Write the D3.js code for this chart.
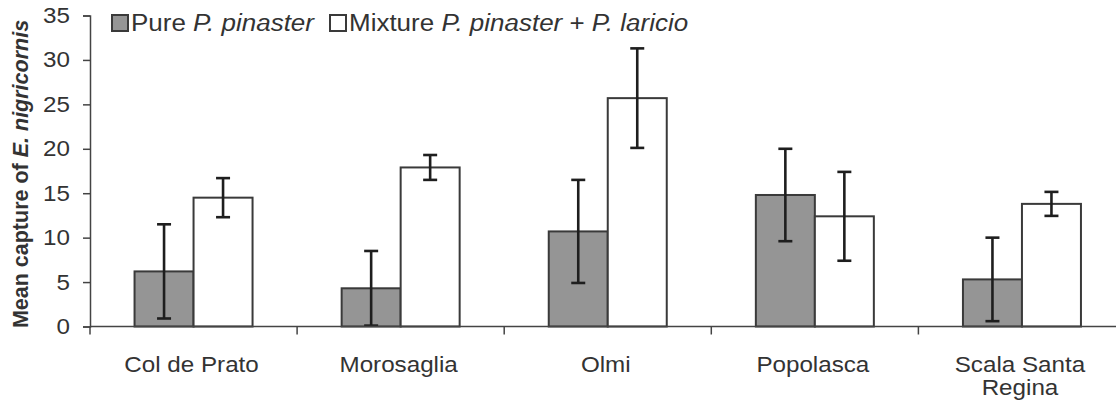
<!DOCTYPE html>
<html>
<head>
<meta charset="utf-8">
<script src="https://cdn.jsdelivr.net/npm/d3@7"></script>
<style>
  html, body { margin: 0; padding: 0; background: #fff; }
  svg { display: block; }
  text { font-family: "Liberation Sans", Arial, sans-serif; fill: #333; }
</style>
</head>
<body>
<svg id="chart" width="1116" height="405"></svg>
<script>
// Sites sampled
const categories = ["Col de Prato", "Morosaglia", "Olmi", "Popolasca", "Scala Santa Regina"];
// Mean captures and their error (± SE) per stand type
const pureMean = [6.2, 4.3, 10.7, 14.8, 5.3];
const pureErr  = [5.3, 4.2, 5.8, 5.2, 4.7];
const mixMean  = [14.5, 17.9, 25.7, 12.4, 13.8];
const mixErr   = [2.2, 1.4, 5.6, 5.0, 1.35];
const yTicks   = [0, 5, 10, 15, 20, 25, 30, 35];
const seriesKeys = ["pure", "mix"];

const svg = d3.select("#chart");
const fs = 22;      // label font size
const sx = 1.1;     // horizontal text widening

const x = d3.scaleBand().domain(categories).range([90, 1125.5]).padding(0);
const xSub = d3.scaleBand().domain(seriesKeys)
  .range([x.bandwidth() / 2 - 59, x.bandwidth() / 2 + 59]).padding(0);
const y = d3.scaleLinear().domain([0, 35]).range([326.5, 15.5]);

const fills = { pure: "#959595", mix: "#ffffff" };

const rows = categories.map((c, i) => ({
  cat: c,
  vals: [
    { key: "pure", mean: pureMean[i], err: pureErr[i] },
    { key: "mix",  mean: mixMean[i],  err: mixErr[i] }
  ]
}));

// Bars
const groups = svg.append("g").selectAll("g").data(rows).join("g")
  .attr("transform", d => `translate(${x(d.cat)},0)`);

groups.selectAll("rect").data(d => d.vals).join("rect")
  .attr("x", d => xSub(d.key))
  .attr("y", d => y(d.mean))
  .attr("width", xSub.bandwidth())
  .attr("height", d => y(0) - y(d.mean))
  .attr("fill", d => fills[d.key])
  .attr("stroke", "#3a3a3a")
  .attr("stroke-width", 2);

// Error bars
const eb = groups.selectAll("g.err").data(d => d.vals).join("g").attr("class", "err")
  .attr("stroke", "#1e1e1e").attr("stroke-width", 2.6);
const cx = d => xSub(d.key) + xSub.bandwidth() / 2;
eb.append("line")
  .attr("x1", cx).attr("x2", cx)
  .attr("y1", d => y(Math.max(0, d.mean - d.err)))
  .attr("y2", d => y(d.mean + d.err));
eb.append("line")
  .attr("x1", d => cx(d) - 7).attr("x2", d => cx(d) + 7)
  .attr("y1", d => y(d.mean + d.err)).attr("y2", d => y(d.mean + d.err));
eb.append("line")
  .attr("x1", d => cx(d) - 7).attr("x2", d => cx(d) + 7)
  .attr("y1", d => y(Math.max(0, d.mean - d.err))).attr("y2", d => y(Math.max(0, d.mean - d.err)));

// Y axis
const yAxis = svg.append("g").attr("transform", "translate(90,0)")
  .call(d3.axisLeft(y).tickValues(yTicks).tickSize(7).tickPadding(13));
yAxis.select(".domain").attr("stroke", "#444").attr("stroke-width", 1.5);
yAxis.selectAll(".tick line").attr("stroke", "#444").attr("stroke-width", 1.5);
yAxis.selectAll(".tick text")
  .attr("font-size", fs).attr("fill", "#333")
  .attr("font-family", "Liberation Sans, Arial, sans-serif")
  .attr("transform", function () {
    const t = d3.select(this);
    const xx = +t.attr("x");
    return `translate(${xx},0) scale(${sx},1) translate(${-xx},0)`;
  });

// X axis
const xAxisY = y(0);
svg.append("line")
  .attr("x1", 90).attr("x2", 1116)
  .attr("y1", xAxisY).attr("y2", xAxisY)
  .attr("stroke", "#444").attr("stroke-width", 1.5);
const bounds = categories.map(c => x(c)).concat([x.range()[1]]);
svg.append("g").selectAll("line").data(bounds).join("line")
  .attr("x1", d => d).attr("x2", d => d)
  .attr("y1", xAxisY).attr("y2", xAxisY + 8)
  .attr("stroke", "#444").attr("stroke-width", 1.5);

// Category labels (long names wrap onto two lines)
const wrapAt = { "Scala Santa Regina": ["Scala Santa", "Regina"] };
const catLab = svg.append("g").selectAll("text").data(categories).join("text")
  .attr("font-size", fs)
  .attr("text-anchor", "middle")
  .attr("transform", d => `translate(${x(d) + x.bandwidth() / 2 - 2},372) scale(${sx},1)`);
catLab.each(function (d) {
  const lines = wrapAt[d] || [d];
  d3.select(this).selectAll("tspan").data(lines).join("tspan")
    .attr("x", 0).attr("dy", (l, i) => i === 0 ? 0 : 23.5).text(l => l);
});

// Y axis title
const yTitle = svg.append("text")
  .attr("transform", `translate(28,174) rotate(-90)`)
  .attr("text-anchor", "middle")
  .attr("font-size", 21.5)
  .attr("font-weight", "bold");
yTitle.append("tspan").text("Mean capture of ");
yTitle.append("tspan").attr("font-style", "italic").text("E. nigricornis");

// Legend
const legend = [
  { key: "pure", parts: [["Pure ", false], ["P. pinaster", true]], x: 111 },
  { key: "mix",  parts: [["Mixture ", false], ["P. pinaster", true], [" + ", false], ["P. laricio", true]], x: 329 }
];
const lg = svg.append("g").selectAll("g").data(legend).join("g")
  .attr("transform", d => `translate(${d.x},14)`);
lg.append("rect")
  .attr("x", 1).attr("y", 1).attr("width", 16).attr("height", 16)
  .attr("fill", d => fills[d.key]).attr("stroke", "#3a3a3a").attr("stroke-width", 2);
lg.append("text")
  .attr("font-size", 23)
  .attr("transform", `translate(20,17) scale(1.13,1)`)
  .each(function (d) {
    d3.select(this).selectAll("tspan").data(d.parts).join("tspan")
      .attr("font-style", p => p[1] ? "italic" : "normal")
      .text(p => p[0]);
  });
</script>
</body>
</html>
